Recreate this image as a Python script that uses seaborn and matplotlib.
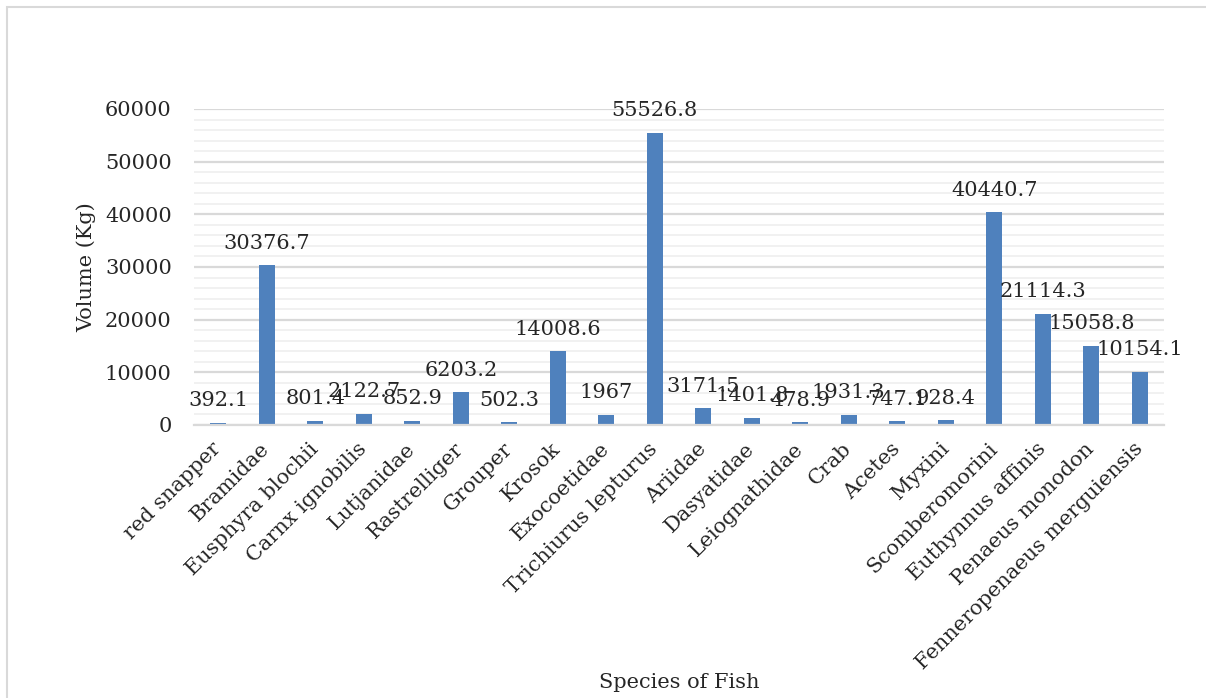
import numpy as np
import pandas as pd
import matplotlib.pyplot as plt
import seaborn as sns
from matplotlib.patches import Rectangle
from matplotlib.ticker import MultipleLocator

# -------------------------- data --------------------------
species = ['red snapper', 'Bramidae', 'Eusphyra blochii', 'Carnx ignobilis',
           'Lutjanidae', 'Rastrelliger', 'Grouper', 'Krosok', 'Exocoetidae',
           'Trichiurus lepturus', 'Ariidae', 'Dasyatidae', 'Leiognathidae',
           'Crab', 'Acetes', 'Myxini', 'Scomberomorini', 'Euthynnus affinis',
           'Penaeus monodon', 'Fenneropenaeus merguiensis']
volume = [392.1, 30376.7, 801.4, 2122.7, 852.9, 6203.2, 502.3, 14008.6,
          1967, 55526.8, 3171.5, 1401.8, 478.9, 1931.3, 747.1, 928.4,
          40440.7, 21114.3, 15058.8, 10154.1]

df = pd.DataFrame({'species': species, 'volume': volume})

# -------------------------- style --------------------------
sns.set_style("white")
plt.rcParams['font.family'] = ['DejaVu Serif']
FS = 15

fig = plt.figure(figsize=(12.06, 6.98), dpi=100)
ax = fig.add_axes([194 / 1206, 1 - 425 / 698, 970 / 1206, 316 / 698])

sns.barplot(data=df, x='species', y='volume', color='#4f81bd',
            saturation=1, width=0.34, linewidth=0, ax=ax)

# 数据标签
ax.bar_label(ax.containers[0], labels=[f"{v:g}" for v in volume],
             padding=9, fontsize=FS, clip_on=False)

# 坐标轴与网格
ax.set_ylim(0, 60000)
ax.set_xlim(-0.5, len(species) - 0.5)
ax.yaxis.set_major_locator(MultipleLocator(10000))
ax.yaxis.set_minor_locator(MultipleLocator(2000))
ax.grid(which='major', axis='y', color='#d9d9d9', linewidth=1.6)
ax.grid(which='minor', axis='y', color='#f0f0f0', linewidth=1.3)
ax.set_axisbelow(True)
for s in ['top', 'right', 'left']:
    ax.spines[s].set_visible(False)
ax.spines['bottom'].set_color('#d9d9d9')
ax.spines['bottom'].set_linewidth(1.6)
ax.tick_params(axis='both', which='both', length=0, labelsize=FS)
ax.tick_params(axis='y', pad=16)
ax.tick_params(axis='x', pad=15)
plt.setp(ax.get_xticklabels(), rotation=45, ha='right', va='center',
         rotation_mode='anchor')

ax.set_ylabel('Volume (Kg)', fontsize=FS, labelpad=6)
ax.set_xlabel('')
fig.text(679 / 1206, 1 - 683 / 698, 'Species of Fish', ha='center',
         va='center', fontsize=FS)

# 外框
fig.patches.append(Rectangle((7 / 1206, -0.1), 1.2, 1 - 7 / 698 + 0.1,
                             transform=fig.transFigure, fill=False,
                             edgecolor='#d9d9d9', linewidth=1.5))

fig.savefig('out.png', dpi=100)
